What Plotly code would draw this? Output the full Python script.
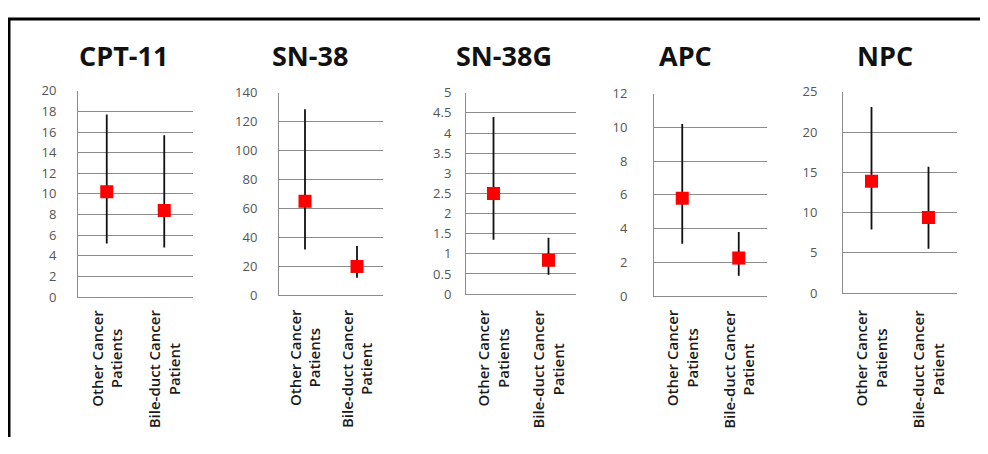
import plotly.graph_objects as go

# page is 988x454; the default page body margin (8px) surrounds the figure
PAGE_W, PAGE_H, OFF = 988, 454, 8
W, H = PAGE_W - 2 * OFF, PAGE_H - 2 * OFF

categories = ["Other Cancer<br>Patients", "Bile-duct Cancer<br>Patient"]
titles = ["CPT-11", "SN-38", "SN-38G", "APC", "NPC"]

cpt11_mean = [10.2, 8.4]
cpt11_upper = [17.7, 15.7]
cpt11_lower = [5.2, 4.8]

sn38_mean = [65.0, 19.8]
sn38_upper = [128.5, 34.0]
sn38_lower = [31.5, 12.0]

sn38g_mean = [2.5, 0.84]
sn38g_upper = [4.4, 1.4]
sn38g_lower = [1.35, 0.48]

apc_mean = [5.8, 2.25]
apc_upper = [10.2, 3.8]
apc_lower = [3.1, 1.2]

npc_mean = [13.9, 9.4]
npc_upper = [23.1, 15.7]
npc_lower = [7.9, 5.5]

y_max = [20, 140, 5, 12, 25]
y_dtick = [2, 20, 0.5, 2, 5]

panels = [
    (cpt11_mean, cpt11_upper, cpt11_lower),
    (sn38_mean, sn38_upper, sn38_lower),
    (sn38g_mean, sn38g_upper, sn38g_lower),
    (apc_mean, apc_upper, apc_lower),
    (npc_mean, npc_upper, npc_lower),
]


def px(x):  # page pixel -> paper x
    return (x - OFF) / W


def py(y):  # page pixel -> paper y
    return 1 - (y - OFF) / H


# layout (page pixels)
x_dom_px = [(78, 193), (279, 383), (466, 576), (654, 767), (843, 957)]
y_dom_px = [(85, 300), (87, 298), (87, 297), (88, 299), (86, 296)]
title_cx = [123, 310, 504, 685, 885]
ylab_standoff = [18, 18, 11, 23, 22]

fig = go.Figure()
grid = "#8c8c8c"
for i, (mean, up, lo) in enumerate(panels):
    n = i + 1
    xa = "x" if n == 1 else f"x{n}"
    ya = "y" if n == 1 else f"y{n}"
    fig.add_trace(go.Scatter(
        x=categories, y=mean, mode="markers",
        marker=dict(symbol="square", size=13, color="#ff0000"),
        error_y=dict(type="data", symmetric=False,
                     array=[u - m for u, m in zip(up, mean)],
                     arrayminus=[m - l for m, l in zip(mean, lo)],
                     color="#111111", thickness=1.8, width=0),
        xaxis=xa, yaxis=ya, showlegend=False,
    ))
    x0, x1 = x_dom_px[i]
    yt, yb = y_dom_px[i]
    fig.layout[f"xaxis{'' if n == 1 else n}"] = dict(
        domain=[px(x0), px(x1)], anchor=ya, type="category",
        range=[-0.5, 1.5], showgrid=False, zeroline=False,
        showline=True, linecolor=grid, linewidth=1,
        ticks="", showticklabels=False,
    )
    fig.layout[f"yaxis{'' if n == 1 else n}"] = dict(
        domain=[py(yb), py(yt)], anchor=xa,
        range=[0, y_max[i]], dtick=y_dtick[i], showgrid=True,
        gridcolor=grid, gridwidth=1, zeroline=False,
        showline=True, linecolor=grid, linewidth=1, ticks="",
        ticklabelstandoff=ylab_standoff[i],
        tickfont=dict(family="Open Sans", size=13, color="#555555"),
    )
    # category labels, rotated, lines centred
    for c in categories:
        fig.add_annotation(text=c, x=c, xref=xa, y=py(311), yref="paper",
                           textangle=-90, showarrow=False, align="center",
                           xanchor="center", yanchor="top",
                           font=dict(family="Open Sans", size=15, color="#1a1a1a", weight=600))
    fig.add_annotation(text=f"<b>{titles[i]}</b>", x=px(title_cx[i]), y=py(48),
                       xref="paper", yref="paper", showarrow=False,
                       xanchor="center", yanchor="middle",
                       font=dict(family="Open Sans", size=27, color="#111111"))

# outer frame (top and left edges)
fig.add_shape(type="line", xref="paper", yref="paper", x0=0, x1=1, y0=py(10), y1=py(10),
              line=dict(color="black", width=3))
fig.add_shape(type="line", xref="paper", yref="paper", x0=px(9), x1=px(9), y0=0, y1=py(10),
              line=dict(color="black", width=3))

fig.update_layout(width=W, height=H, margin=dict(l=0, r=0, t=0, b=0),
                  paper_bgcolor="white", plot_bgcolor="white")
fig.write_html("out.html", config={"displayModeBar": False})
